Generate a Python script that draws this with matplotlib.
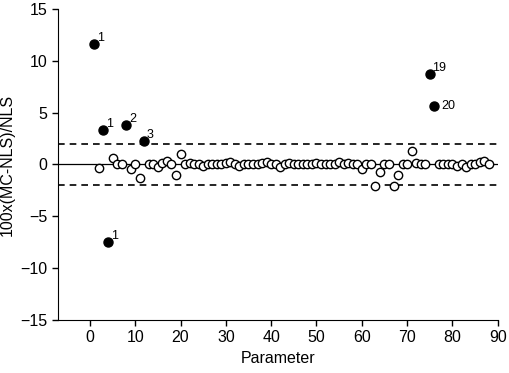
import matplotlib
matplotlib.use('Agg')
import matplotlib.pyplot as plt

plt.rcParams['font.family'] = ['Liberation Sans', 'DejaVu Sans']

# filled points (labelled)
filled_x = [1, 3, 4, 8, 12, 75, 76]
filled_y = [11.6, 3.3, -7.5, 3.8, 2.3, 8.7, 5.6]
filled_lab = ['1', '1', '1', '2', '3', '19', '20']

# open points
open_x = [2, 5, 6, 7, 9, 10, 11, 13, 14, 15, 16, 17, 18, 19, 20,
          21, 22, 23, 24, 25, 26, 27, 28, 29, 30, 31, 32, 33, 34, 35,
          36, 37, 38, 39, 40, 41, 42, 43, 44, 45, 46, 47, 48, 49, 50,
          51, 52, 53, 54, 55, 56, 57, 58, 59, 60, 61, 62, 63, 64, 65,
          66, 67, 68, 69, 70, 71, 72, 73, 74, 77, 78, 79, 80, 81, 82,
          83, 84, 85, 86, 87, 88]
open_y = [-0.3, 0.6, 0.0, 0.0, -0.4, 0.0, -1.3, 0.0, 0.0, -0.2, 0.1, 0.3, 0.0, -1.0, 1.0,
          0.0, 0.1, 0.0, 0.0, -0.1, 0.0, 0.0, 0.0, 0.0, 0.1, 0.2, 0.0, -0.1, 0.0, 0.0,
          0.0, 0.0, 0.1, 0.2, 0.0, 0.0, -0.2, 0.0, 0.1, 0.0, 0.0, 0.0, 0.0, 0.0, 0.1,
          0.0, 0.0, 0.0, 0.0, 0.2, 0.0, 0.1, 0.0, 0.0, -0.4, 0.0, 0.0, -2.1, -0.7, 0.0,
          0.0, -2.1, -1.0, 0.0, 0.0, 1.3, 0.1, 0.0, 0.0, 0.0, 0.0, 0.0, 0.0, -0.1, 0.0,
          -0.2, 0.0, 0.0, 0.2, 0.3, 0.0]

fig = plt.figure(figsize=(5.1, 3.73), dpi=100)
ax = fig.add_axes([0.114, 0.142, 0.862, 0.834])

ax.axhline(0, color='black', lw=0.9, zorder=1)
ax.axhline(2, color='black', lw=1.2, ls=(0, (4, 3)), zorder=1)
ax.axhline(-2, color='black', lw=1.2, ls=(0, (4, 3)), zorder=1)

ax.plot(open_x, open_y, 'o', ms=6, mfc='white', mec='black', mew=1.0, zorder=2)
ax.plot(filled_x, filled_y, 'o', ms=6.5, color='black', zorder=3)
for x, y, t in zip(filled_x, filled_y, filled_lab):
    if t == '20':
        ax.annotate(t, (x, y), xytext=(5, 0), textcoords='offset points',
                    fontsize=9, ha='left', va='center')
    else:
        ax.annotate(t, (x, y), xytext=(2, 0), textcoords='offset points',
                    fontsize=9, ha='left', va='bottom')

ax.set_xlim(-7, 90)
ax.set_ylim(-15, 15)
ax.set_xticks(range(0, 91, 10))
ax.set_yticks(range(-15, 16, 5))
ax.spines['top'].set_visible(False)
ax.spines['right'].set_visible(False)
ax.tick_params(direction='out', length=4, width=1, labelsize=11.5)
ax.set_xlabel('Parameter', fontsize=11.5)
ax.set_ylabel('100x(MC-NLS)/NLS', fontsize=11.5)

fig.savefig('out.png', dpi=100)
